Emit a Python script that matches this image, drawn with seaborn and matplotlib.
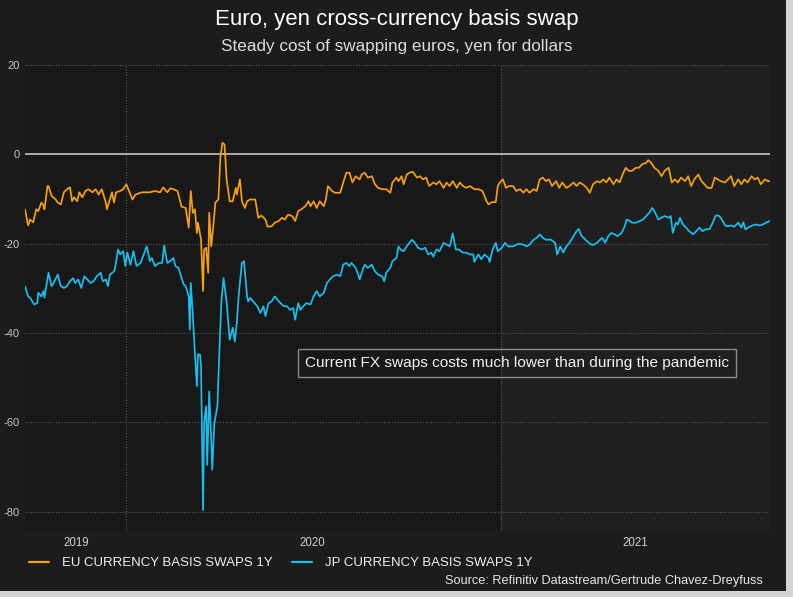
import numpy as np
import pandas as pd
import matplotlib
matplotlib.use("Agg")
import matplotlib.pyplot as plt
import seaborn as sns
from matplotlib.patches import Rectangle
from matplotlib.lines import Line2D

# ---------------- data ----------------
base_date = "2020-01-01"
series_names = ["EU CURRENCY BASIS SWAPS 1Y", "JP CURRENCY BASIS SWAPS 1Y"]
year_labels = ["2019", "2020", "2021"]
year_label_days = [-49, 182, 497]
year_start_days = [0, 366]
y_ticks = [20, 0, -20, -40, -60, -80]

# days since 2020-01-01
eu_days = [-99, -96, -94, -91, -88, -86, -83, -81, -80, -77, -76, -73, -69, -67, -64, -61, -58, -55, -53, -51,
           -48, -46, -43, -40, -37, -33, -30, -27, -24, -20, -19, -16, -14, -12, -10, -6, -3, 0, 2, 6,
           9, 15, 23, 28, 33, 36, 40, 43, 46, 50, 54, 58, 61, 63, 65, 67, 69, 70, 73, 75,
           76, 78, 80, 81, 83, 85, 87, 90, 92, 94, 96, 98, 101, 104, 107, 108, 111, 113, 116, 118,
           121, 126, 129, 132, 136, 138, 142, 145, 149, 152, 155, 158, 162, 165, 168, 171, 175, 178, 180, 183,
           186, 189, 193, 195, 197, 201, 204, 209, 212, 215, 218, 221, 224, 228, 230, 233, 236, 240, 243, 246,
           250, 254, 258, 260, 264, 266, 269, 271, 274, 277, 280, 284, 287, 290, 293, 296, 300, 303, 306, 310,
           313, 316, 319, 323, 326, 329, 332, 336, 340, 344, 348, 350, 352, 354, 357, 361, 363, 365, 368, 371,
           374, 378, 381, 385, 388, 391, 394, 398, 401, 404, 407, 410, 413, 416, 420, 423, 426, 430, 433, 437,
           440, 443, 446, 450, 453, 456, 460, 463, 466, 469, 472, 476, 479, 482, 485, 488, 491, 494, 498, 501,
           504, 508, 510, 513, 516, 520, 523, 526, 530, 533, 536, 539, 542, 546, 549, 552, 555, 559, 562, 565,
           568, 572, 575, 578, 581, 585, 588, 591, 594, 598, 601, 604, 607, 611, 614, 617, 620, 624, 627, 629]
eu_values = [-12.3, -15.9, -14.6, -15.2, -12.3, -12.7, -10.8, -11.4, -12.3, -7.1, -7.1, -9.3, -10.1, -10.8, -11.2, -8.5, -7.8, -7.4, -10.5, -9.6,
             -10.5, -8.5, -9.6, -8.2, -7.8, -8.5, -7.8, -9.0, -7.8, -10.8, -12.3, -10.1, -8.5, -10.8, -8.5, -8.2, -7.8, -6.7, -7.8, -10.1,
             -9.0, -8.5, -8.5, -8.2, -8.5, -7.4, -8.5, -7.6, -7.8, -8.2, -11.7, -12.0, -16.4, -8.2, -13.1, -12.3, -17.6, -15.3, -19.0, -30.6,
             -21.3, -20.9, -26.5, -13.1, -20.6, -16.1, -10.8, -10.1, -0.4, 2.6, 2.2, -5.6, -10.5, -10.5, -7.5, -9.0, -5.6, -10.5, -12.0, -10.5,
             -10.1, -10.1, -14.2, -13.7, -14.6, -16.2, -16.1, -15.3, -14.9, -14.2, -14.6, -13.5, -13.8, -14.9, -12.7, -12.3, -11.6, -10.5, -11.6, -10.5,
             -12.0, -10.5, -11.6, -10.1, -7.1, -8.2, -8.6, -8.6, -6.3, -4.1, -4.1, -6.3, -4.9, -5.6, -4.5, -4.1, -5.2, -4.9, -6.7, -7.5,
             -7.8, -7.8, -8.6, -6.3, -5.2, -6.0, -4.9, -6.7, -4.5, -4.1, -3.9, -5.2, -4.9, -5.6, -5.2, -7.1, -6.3, -6.7, -6.0, -7.5,
             -6.3, -7.1, -6.0, -7.5, -6.3, -7.1, -7.5, -7.1, -7.8, -7.8, -8.2, -9.3, -10.5, -11.2, -10.7, -10.7, -7.1, -6.3, -5.6, -7.5,
             -7.1, -7.1, -8.2, -7.8, -8.6, -7.8, -8.6, -7.8, -8.2, -5.6, -5.2, -6.0, -5.6, -7.1, -6.0, -7.5, -6.3, -7.5, -7.1, -6.3,
             -7.1, -6.3, -6.7, -7.5, -8.6, -6.7, -6.0, -6.3, -5.6, -6.3, -5.2, -6.7, -5.6, -6.3, -4.5, -3.0, -3.7, -3.7, -3.0, -3.0,
             -2.2, -1.9, -1.3, -1.9, -3.0, -3.7, -4.9, -3.7, -3.0, -6.3, -5.6, -6.3, -5.2, -6.0, -4.9, -7.1, -5.6, -4.5, -6.0, -6.7,
             -7.5, -7.5, -5.2, -5.6, -6.0, -6.3, -5.6, -4.9, -7.1, -5.6, -6.7, -5.6, -6.3, -4.9, -5.6, -5.2, -6.7, -5.6, -6.0, -6.0]

jp_days = [-99, -96, -94, -90, -87, -86, -83, -81, -80, -76, -73, -71, -67, -64, -61, -58, -55, -52, -50, -47,
           -44, -41, -38, -35, -32, -29, -25, -23, -20, -18, -16, -12, -11, -8, -6, -3, -1, 1, 4, 7,
           10, 14, 17, 20, 23, 25, 28, 32, 35, 37, 40, 43, 46, 48, 51, 53, 56, 58, 61, 62,
           63, 65, 67, 69, 70, 72, 73, 75, 76, 78, 79, 81, 83, 84, 86, 89, 91, 93, 95, 98,
           101, 104, 106, 108, 110, 113, 115, 118, 119, 121, 124, 128, 131, 134, 136, 139, 142, 145, 149, 154,
           157, 160, 163, 165, 168, 170, 173, 176, 180, 183, 186, 189, 193, 196, 199, 202, 206, 209, 212, 215,
           218, 220, 224, 226, 228, 231, 233, 236, 240, 243, 246, 250, 252, 254, 258, 260, 264, 266, 268, 271,
           274, 279, 282, 285, 289, 292, 295, 298, 300, 303, 306, 310, 313, 316, 319, 322, 325, 329, 332, 336,
           339, 340, 344, 347, 350, 354, 355, 358, 361, 363, 367, 370, 373, 378, 383, 388, 391, 394, 398, 401,
           404, 407, 410, 415, 419, 421, 424, 427, 430, 433, 437, 440, 442, 445, 447, 450, 453, 456, 460, 463,
           465, 468, 471, 474, 477, 480, 484, 487, 489, 492, 494, 498, 502, 505, 508, 511, 514, 516, 520, 523,
           526, 530, 532, 534, 537, 539, 541, 544, 547, 550, 554, 557, 560, 563, 566, 570, 573, 576, 579, 582,
           585, 588, 591, 594, 598, 601, 603, 605, 609, 612, 615, 619, 622, 625, 629]
jp_values = [-29.5, -31.8, -32.1, -33.6, -33.3, -31.0, -31.8, -30.6, -32.1, -26.5, -29.5, -28.8, -26.9, -29.5, -29.9, -29.5, -28.4, -27.7, -28.8, -28.0,
             -29.9, -27.3, -28.0, -28.8, -28.4, -27.3, -26.5, -28.4, -28.0, -29.5, -26.9, -26.2, -25.4, -21.3, -22.4, -21.7, -25.0, -22.0, -24.7, -21.7,
             -25.0, -24.3, -22.4, -20.6, -23.9, -23.2, -25.0, -24.3, -24.3, -20.4, -24.3, -23.9, -23.2, -25.0, -25.4, -26.9, -29.1, -29.5, -31.8, -39.2,
             -28.8, -35.9, -44.5, -51.9, -44.8, -44.8, -47.4, -79.6, -60.2, -56.4, -69.5, -53.1, -63.9, -70.6, -60.2, -56.4, -43.7, -32.5, -27.7, -33.0,
             -41.5, -38.8, -41.9, -37.7, -31.0, -24.3, -23.9, -31.8, -32.9, -32.1, -32.9, -34.0, -35.5, -34.0, -36.2, -33.3, -32.9, -31.8, -32.9, -34.0,
             -34.0, -34.8, -34.4, -37.0, -33.3, -34.8, -34.0, -33.3, -33.6, -31.8, -30.6, -31.8, -31.0, -28.8, -28.0, -27.3, -26.9, -27.3, -24.7, -24.3,
             -25.0, -24.3, -25.4, -26.5, -28.0, -25.8, -24.7, -25.4, -24.7, -26.2, -26.9, -27.3, -28.4, -26.5, -25.4, -23.9, -23.2, -20.6, -21.3, -21.7,
             -20.6, -19.1, -19.8, -20.9, -21.3, -20.9, -22.4, -22.0, -22.9, -21.3, -21.7, -19.8, -20.2, -20.6, -17.7, -21.3, -21.3, -22.0, -22.0, -22.4,
             -22.4, -24.1, -22.4, -23.5, -22.4, -23.2, -24.1, -21.3, -19.8, -21.7, -20.9, -19.8, -20.6, -20.6, -20.0, -20.2, -20.6, -20.2, -19.1, -18.7,
             -17.9, -18.7, -19.1, -19.1, -19.8, -22.4, -20.6, -22.0, -20.6, -19.8, -18.3, -17.2, -16.7, -18.3, -18.7, -19.4, -20.0, -20.3, -19.8, -19.1,
             -18.7, -19.8, -18.3, -17.6, -17.9, -18.3, -17.6, -16.1, -14.6, -14.9, -15.3, -15.3, -14.9, -14.6, -13.8, -13.1, -12.0, -12.7, -14.6, -14.2,
             -13.8, -14.2, -13.8, -17.6, -15.3, -15.7, -14.2, -15.7, -16.4, -17.2, -17.9, -17.2, -16.4, -17.2, -16.8, -16.7, -15.3, -13.7, -13.7, -14.6,
             -15.9, -16.1, -15.9, -16.2, -15.3, -16.4, -15.2, -16.8, -16.2, -15.9, -15.7, -15.9, -15.7, -15.3, -14.9]

title = "Euro, yen cross-currency basis swap"
subtitle = "Steady cost of swapping euros, yen for dollars"
note = "Current FX swaps costs much lower than during the pandemic"
source = "Source: Refinitiv Datastream/Gertrude Chavez-Dreyfuss"

# ---------------- build frame ----------------
base = pd.Timestamp(base_date)
df = pd.concat([
    pd.DataFrame({"date": base + pd.to_timedelta(eu_days, unit="D"), "value": eu_values, "series": series_names[0]}),
    pd.DataFrame({"date": base + pd.to_timedelta(jp_days, unit="D"), "value": jp_values, "series": series_names[1]}),
], ignore_index=True)

colors = {series_names[0]: "#f5a00c", series_names[1]: "#16bfef"}

sns.set_theme(style="dark")
narrow = ["Liberation Sans Narrow", "Liberation Sans", "DejaVu Sans"]
regular = ["Liberation Sans", "DejaVu Sans"]
plt.rcParams["font.family"] = narrow

W, H = 793, 597
fig = plt.figure(figsize=(W / 100, H / 100), dpi=100)
fig.patch.set_facecolor("#d4d4d4")
fig.patches.append(Rectangle((0, 6 / H), 786 / W, 591 / H, transform=fig.transFigure,
                             facecolor="#1c1c1c", edgecolor="none", zorder=-10))

ax = fig.add_axes([25 / W, 1 - 531 / H, 745 / W, 466 / H])
ax.set_facecolor("#181818")

x0 = base + pd.Timedelta(days=min(eu_days))
x1 = base + pd.Timedelta(days=max(eu_days))
ax.axvspan(base + pd.Timedelta(days=year_start_days[1]), x1, color="#1f1f1f", zorder=0, lw=0)

sns.lineplot(data=df, x="date", y="value", hue="series", palette=colors, ax=ax,
             legend=False, linewidth=1.25, zorder=3)

ax.set_xlim(x0, x1)
ax.set_ylim(-84.3, 20)

# grid
for t in y_ticks:
    if t == 0:
        ax.axhline(t, color="#c4c4c4", lw=1.2, zorder=2)
    else:
        ax.axhline(t, color="#5a5a5a", lw=0.8, ls=(0, (1, 1.5)), zorder=1)
for d in year_start_days:
    ax.axvline(base + pd.Timedelta(days=d), color="#5a5a5a", lw=0.8, ls=(0, (1, 1.5)), zorder=1)

ax.set_yticks(y_ticks)
ax.set_yticklabels([str(t) for t in y_ticks], color="#c8c8c8", fontsize=8)
ax.set_xticks([base + pd.Timedelta(days=d) for d in year_label_days])
ax.set_xticklabels(year_labels, color="#d0d0d0", fontsize=8.3)
ax.tick_params(axis="both", length=0)
ax.tick_params(axis="y", pad=4)
ax.tick_params(axis="x", pad=4)
ax.set_xlabel("")
ax.set_ylabel("")
ax.grid(False)
for s in ax.spines.values():
    s.set_visible(False)

# note box
ax.text(0.66, 0.3605, note, transform=ax.transAxes, ha="center", va="center",
        fontsize=11.1, color="#f2f2f2", family=regular, zorder=5,
        bbox=dict(boxstyle="square,pad=0.45", facecolor="none", edgecolor="#8c8c8c", lw=1))

# titles
fig.text(0.5, 1 - 20 / H, title, ha="center", va="center", fontsize=16, color="white")
fig.text(0.5, 1 - 46 / H, subtitle, ha="center", va="center", fontsize=12.3, color="#dcdcdc")

# legend
handles = [Line2D([0], [0], color=colors[n], lw=1.6) for n in series_names]
leg = fig.legend(handles, series_names, loc="center left", bbox_to_anchor=(17 / W, 1 - 563 / H),
                 ncol=2, frameon=False, fontsize=9.5, labelcolor="#f0f0f0",
                 handlelength=1.5, handletextpad=1.0, columnspacing=1.5)

fig.text(763 / W, 1 - 581 / H, source, ha="right", va="center", fontsize=9.2, color="#e6e6e6")

fig.savefig("out.png", dpi=100, facecolor=fig.get_facecolor())
